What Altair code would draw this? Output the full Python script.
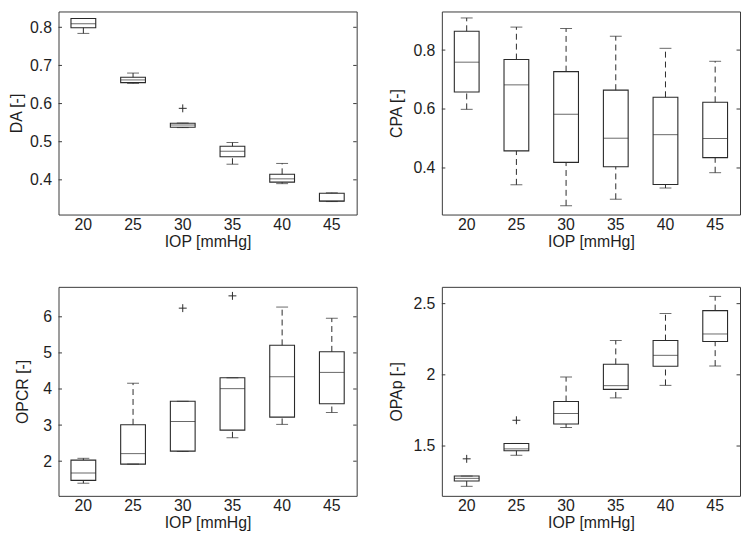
import altair as alt
import pandas as pd

IOP = [20, 25, 30, 35, 40, 45]

DA_lower = [0.784, 0.653, 0.537, 0.441, 0.390, 0.343]
DA_q1 = [0.799, 0.655, 0.538, 0.4605, 0.394, 0.344]
DA_median = [0.8096, 0.662, 0.5435, 0.475, 0.4026, 0.345]
DA_q3 = [0.823, 0.669, 0.5486, 0.488, 0.4145, 0.365]
DA_upper = [0.823, 0.680, 0.549, 0.498, 0.443, 0.366]
DA_out_iop = [30]
DA_out_val = [0.5875]
DA_ticks = [0.4, 0.5, 0.6, 0.7, 0.8]
DA_domain = [0.309, 0.8415]

CPA_lower = [0.599, 0.343, 0.272, 0.294, 0.332, 0.384]
CPA_q1 = [0.658, 0.458, 0.419, 0.404, 0.344, 0.435]
CPA_median = [0.759, 0.682, 0.582, 0.501, 0.513, 0.500]
CPA_q3 = [0.864, 0.768, 0.727, 0.664, 0.640, 0.623]
CPA_upper = [0.909, 0.878, 0.873, 0.847, 0.806, 0.762]
CPA_out_iop = []
CPA_out_val = []
CPA_ticks = [0.4, 0.6, 0.8]
CPA_domain = [0.242, 0.931]

OPCR_lower = [1.39, 1.92, 2.27, 2.65, 3.02, 3.35]
OPCR_q1 = [1.47, 1.92, 2.28, 2.86, 3.22, 3.59]
OPCR_median = [1.67, 2.21, 3.10, 4.01, 4.34, 4.46]
OPCR_q3 = [2.03, 3.01, 3.66, 4.31, 5.21, 5.03]
OPCR_upper = [2.08, 4.16, 3.66, 4.31, 6.27, 5.96]
OPCR_out_iop = [30, 35]
OPCR_out_val = [6.24, 6.58]
OPCR_ticks = [2, 3, 4, 5, 6]
OPCR_domain = [1.04, 6.83]

OPAP_lower = [1.217, 1.435, 1.630, 1.838, 1.926, 2.062]
OPAP_q1 = [1.254, 1.467, 1.655, 1.898, 2.060, 2.234]
OPAP_median = [1.273, 1.480, 1.729, 1.924, 2.137, 2.287]
OPAP_q3 = [1.289, 1.518, 1.813, 2.074, 2.241, 2.451]
OPAP_upper = [1.289, 1.518, 1.984, 2.241, 2.431, 2.551]
OPAP_out_iop = [20, 25]
OPAP_out_val = [1.41, 1.681]
OPAP_ticks = [1.5, 2, 2.5]
OPAP_domain = [1.15, 2.618]

W = 301
LINE = "#2a2a2a"
FRAME = "#3a3a3a"
TEXT = "#1e1e1e"
FONT = "Liberation Sans"
FS = 16
PLUS = "M-1,0L1,0M0,-1L0,1"


def panel(title, lower, q1, med, q3, upper, out_iop, out_val, ticks, domain,
          fmt, title_x, height):
    df = pd.DataFrame({"IOP": IOP, "lower": lower, "q1": q1, "med": med,
                       "q3": q3, "upper": upper})
    df_out = pd.DataFrame({"IOP": out_iop, "val": out_val})
    df_ticks = pd.DataFrame({"v": ticks})

    xscale = alt.Scale(domain=IOP, paddingInner=0, paddingOuter=0)
    xaxis = alt.Axis(labelAngle=0, ticks=False, tickSize=0, domain=False,
                     grid=False, labelPadding=2, titlePadding=1,
                     labelFontSize=FS, titleFontSize=FS,
                     labelColor=TEXT, titleColor=TEXT, labelFont=FONT,
                     titleFont=FONT, titleFontWeight="normal")
    yscale = alt.Scale(domain=domain, nice=False, zero=False)
    yaxis = alt.Axis(values=ticks, format=fmt, ticks=False, tickSize=0,
                     domain=False, grid=False, labelPadding=7,
                     labelFontSize=FS, titleFontSize=FS,
                     labelColor=TEXT, titleColor=TEXT, labelFont=FONT,
                     titleFont=FONT, titleFontWeight="normal",
                     titleX=title_x, titleBaseline="middle")

    def X():
        return alt.X("IOP:O", scale=xscale, axis=xaxis, title="IOP [mmHg]")

    def Y(f):
        return alt.Y(f, type="quantitative", scale=yscale, axis=yaxis,
                     title=title)

    base = alt.Chart(df)
    wl = base.mark_rule(color=LINE, strokeDash=[6, 4], strokeWidth=1).encode(
        x=X(), y=Y("lower"), y2="q1")
    wu = base.mark_rule(color=LINE, strokeDash=[6, 4], strokeWidth=1).encode(
        x=X(), y=Y("q3"), y2="upper")
    cl = base.mark_tick(color=LINE, size=12, thickness=1).encode(
        x=X(), y=Y("lower"))
    cu = base.mark_tick(color=LINE, size=12, thickness=1).encode(
        x=X(), y=Y("upper"))
    box = base.mark_bar(size=25, fill="white", fillOpacity=0, stroke=LINE,
                        strokeWidth=1.1).encode(x=X(), y=Y("q1"), y2="q3")
    md = base.mark_tick(color=LINE, size=25, thickness=1).encode(
        x=X(), y=Y("med"))
    out = alt.Chart(df_out).mark_point(shape=PLUS, size=64, filled=False,
                                       stroke=LINE, strokeWidth=1,
                                       opacity=1).encode(
        x=X(), y=Y("val"))
    tl = alt.Chart(df_ticks).mark_rule(color=FRAME, strokeWidth=1).encode(
        y=Y("v"), x=alt.value(0), x2=alt.value(3.5))
    tr = alt.Chart(df_ticks).mark_rule(color=FRAME, strokeWidth=1).encode(
        y=Y("v"), x=alt.value(W - 3.5), x2=alt.value(W))
    layers = [wl, wu, cl, cu, box, md]
    if len(out_iop):
        layers.append(out)
    layers += [tl, tr]
    return alt.layer(*layers).properties(width=W, height=height)


p1 = panel("DA [-]", DA_lower, DA_q1, DA_median, DA_q3, DA_upper,
           DA_out_iop, DA_out_val, DA_ticks, DA_domain, ".1f", -42.5, 205)
p2 = panel("CPA [-]", CPA_lower, CPA_q1, CPA_median, CPA_q3, CPA_upper,
           CPA_out_iop, CPA_out_val, CPA_ticks, CPA_domain, ".1f", -45.3, 205)
p3 = panel("OPCR [-]", OPCR_lower, OPCR_q1, OPCR_median, OPCR_q3, OPCR_upper,
           OPCR_out_iop, OPCR_out_val, OPCR_ticks, OPCR_domain, "d", -36.3, 211)
p4 = panel("OPAp [-]", OPAP_lower, OPAP_q1, OPAP_median, OPAP_q3, OPAP_upper,
           OPAP_out_iop, OPAP_out_val, OPAP_ticks, OPAP_domain, "~g", -45.3, 211)

chart = alt.concat(p1, p2, p3, p4, columns=2,
                   spacing={"row": 36, "column": 31}).properties(
    padding={"left": 0, "top": 0, "right": 0, "bottom": 0},
    background="white",
).configure(font=FONT).configure_view(stroke=FRAME, strokeWidth=1)

chart.save("out.html", embed_options={"renderer": "svg", "actions": False})
